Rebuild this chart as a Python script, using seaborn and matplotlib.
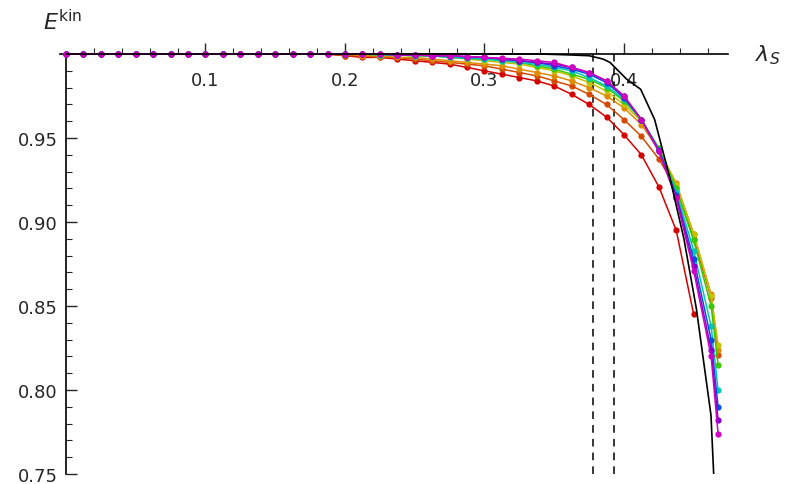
import matplotlib.pyplot as plt
import numpy as np
import pandas as pd
import seaborn as sns

# lambda grid (step 0.0125, plus the two last columns)
lam_head = [0.0, 0.0125, 0.025, 0.0375, 0.05, 0.0625, 0.075, 0.0875, 0.1, 0.1125,
            0.125, 0.1375, 0.15, 0.1625, 0.175, 0.1875]
lam_tail = [0.2, 0.2125, 0.225, 0.2375, 0.25, 0.2625, 0.275, 0.2875, 0.3, 0.3125,
            0.325, 0.3375, 0.35, 0.3625, 0.375, 0.3875, 0.4, 0.4125, 0.425, 0.4375,
            0.45, 0.4625, 0.4675]

# all curves sit at ~1 below lambda = 0.2
head_vals = [1.0] * len(lam_head)

curves = {
    "red":     [0.999, 0.998, 0.998, 0.997, 0.996, 0.995, 0.994, 0.992, 0.990, 0.988,
                0.986, 0.984, 0.981, 0.976, 0.970, 0.9625, 0.952, 0.940, 0.921, 0.895,
                0.845],
    "redor":   [0.999, 0.999, 0.998, 0.998, 0.997, 0.996, 0.995, 0.994, 0.993, 0.991,
                0.989, 0.987, 0.984, 0.981, 0.976, 0.970, 0.961, 0.951, 0.9375, 0.920,
                0.890, 0.855, 0.821],
    "orange":  [1.0, 0.999, 0.999, 0.998, 0.998, 0.997, 0.996, 0.995, 0.994, 0.993,
                0.991, 0.989, 0.987, 0.984, 0.980, 0.975, 0.968, 0.958, 0.943, 0.923,
                0.893, 0.857, 0.824],
    "yellow":  [1.0, 1.0, 0.9995, 0.9995, 0.999, 0.999, 0.998, 0.997, 0.996, 0.995,
                0.994, 0.992, 0.990, 0.987, 0.983, 0.978, 0.970, 0.960, 0.944, 0.922,
                0.893, 0.856, 0.827],
    "green":   [1.0, 1.0, 0.9995, 0.9995, 0.999, 0.999, 0.998, 0.9975, 0.997, 0.996,
                0.995, 0.993, 0.991, 0.988, 0.985, 0.980, 0.972, 0.961, 0.944, 0.920,
                0.889, 0.850, 0.815],
    "cyan":    [1.0, 1.0, 0.9995, 0.9995, 0.999, 0.999, 0.998, 0.9975, 0.997, 0.996,
                0.995, 0.994, 0.992, 0.990, 0.986, 0.981, 0.973, 0.961, 0.943, 0.918,
                0.883, 0.838, 0.800],
    "blue":    [1.0, 1.0, 1.0, 0.9995, 0.9995, 0.999, 0.999, 0.998, 0.998, 0.997,
                0.996, 0.995, 0.993, 0.991, 0.988, 0.983, 0.974, 0.961, 0.943, 0.916,
                0.878, 0.830, 0.790],
    "purple":  [1.0, 1.0, 1.0, 0.9995, 0.9995, 0.999, 0.999, 0.9985, 0.998, 0.997,
                0.996, 0.995, 0.994, 0.992, 0.989, 0.984, 0.975, 0.961, 0.942, 0.915,
                0.874, 0.824, 0.782],
    "magenta": [1.0, 1.0, 1.0, 0.9995, 0.9995, 0.999, 0.999, 0.9985, 0.998, 0.9975,
                0.997, 0.996, 0.995, 0.992, 0.989, 0.984, 0.975, 0.961, 0.942, 0.914,
                0.871, 0.820, 0.774],
}
colors = ["#d40000", "#d64a00", "#e08a00", "#c8c000", "#3cc800", "#00c8b0",
          "#0050e0", "#8000d0", "#d000c0"]

# black reference curve
lam_black = [0.0, 0.34, 0.36, 0.375, 0.385, 0.39, 0.402, 0.412, 0.422, 0.433,
             0.443, 0.452, 0.4624, 0.4645]
e_black = [1.0, 1.0, 0.9995, 0.999, 0.997, 0.995, 0.985, 0.979, 0.961, 0.926,
           0.89, 0.848, 0.785, 0.747]

dashed_x = [0.378, 0.393]

rows = []
for name, tail in curves.items():
    lam = lam_head + lam_tail[:len(tail)]
    vals = head_vals + tail
    for l, v in zip(lam, vals):
        rows.append({"lam": l, "E": v, "curve": name})
df = pd.DataFrame(rows)

sns.set_theme(style="white")
fig = plt.figure(figsize=(7.9, 4.85), dpi=100)
ax = fig.add_axes([60 / 790, 10 / 485, 668 / 790, 465 / 485])

sns.lineplot(data=df, x="lam", y="E", hue="curve", palette=colors, marker="o",
             markersize=4.5, markeredgewidth=0, linewidth=1.1, legend=False,
             ax=ax, clip_on=False, zorder=3)
ax.plot(lam_black, e_black, color="black", lw=1.2, zorder=4)
for xd in dashed_x:
    ax.plot([xd, xd], [0.75, 1.0], color="black", lw=1.1, ls=(0, (5, 4)), zorder=2)

ax.set_xlim(-0.0043, 0.4746)
ax.set_ylim(0.75, 1.0268)

for s in ["top", "right"]:
    ax.spines[s].set_visible(False)
ax.spines["left"].set_position(("data", 0))
ax.spines["left"].set_bounds(0.75, 1.0)
ax.spines["bottom"].set_position(("data", 1.0))
for s in ["left", "bottom"]:
    ax.spines[s].set_color("black")
    ax.spines[s].set_linewidth(1.2)

ax.set_xticks([0.1, 0.2, 0.3, 0.4])
ax.set_xticklabels(["0.1", "0.2", "0.3", "0.4"])
ax.set_xticks(np.arange(0.02, 0.47, 0.02), minor=True)
ax.set_yticks([0.75, 0.80, 0.85, 0.90, 0.95])
ax.set_yticklabels(["0.75", "0.80", "0.85", "0.90", "0.95"])
ax.set_yticks(np.arange(0.76, 1.0, 0.01), minor=True)
ax.tick_params(axis="x", which="major", direction="in", length=8, width=1,
               pad=12, labelsize=13, bottom=True)
ax.tick_params(axis="x", which="minor", direction="in", length=4, width=0.8, bottom=True)
ax.tick_params(axis="y", which="major", direction="in", length=8, width=1,
               pad=6, labelsize=13, left=True)
ax.tick_params(axis="y", which="minor", direction="in", length=4, width=0.8, left=True)
ax.set_xlabel("")
ax.set_ylabel("")

fig.text(43 / 790, 1 - 22 / 485, r"$E^{\mathrm{kin}}$", fontsize=16, va="center")
fig.text(755 / 790, 1 - 55 / 485, r"$\lambda_S$", fontsize=16, va="center")

fig.savefig("out.png", dpi=100)
